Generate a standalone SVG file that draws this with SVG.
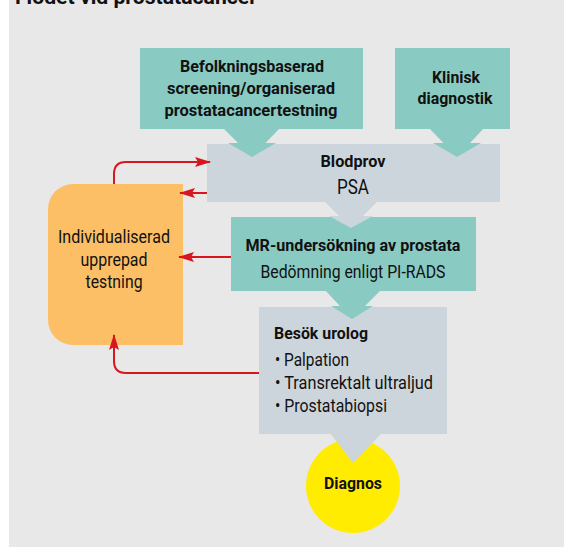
<svg xmlns="http://www.w3.org/2000/svg" width="564" height="547" viewBox="0 0 564 547">
<style>
.t{font-family:Roboto,"Liberation Sans",sans-serif;fill:#111;}
.b{font-weight:bold;font-size:16.5px;}
.r{font-size:18px;}
.teal{fill:#89cbc3;}
.gray{fill:#cdd5dc;}
.con{fill:none;stroke:#d7161e;stroke-width:2;}
</style>
<defs>
<marker id="ah" viewBox="0 0 16 10" refX="15" refY="5" markerWidth="16" markerHeight="10" markerUnits="userSpaceOnUse" orient="auto">
<path d="M0,0 L16,5 L0,10 L3,5 Z" fill="#d7161e"/>
</marker>
</defs>
<rect x="0" y="0" width="564" height="547" fill="#fff"/>
<rect x="9" y="0" width="555" height="547" fill="#e8e8e8"/>
<text class="t" x="15" y="4" font-size="20" font-weight="bold" textLength="242" lengthAdjust="spacingAndGlyphs">Flödet vid prostatacancer</text>

<g id="diagnos">
<circle cx="353" cy="486" r="47" fill="#ffec00"/>
<text class="t b" x="353" y="489" text-anchor="middle" textLength="58" lengthAdjust="spacingAndGlyphs">Diagnos</text>
</g>

<g id="screening">
<rect class="teal" x="140" y="48" width="223" height="81"/>
<polygon class="teal" points="223,128 280,128 252,157"/>
<text class="t b" x="252" y="72" text-anchor="middle" textLength="144" lengthAdjust="spacingAndGlyphs">Befolkningsbaserad</text>
<text class="t b" x="251" y="94" text-anchor="middle" textLength="168" lengthAdjust="spacingAndGlyphs">screening/organiserad</text>
<text class="t b" x="251" y="116" text-anchor="middle" textLength="173" lengthAdjust="spacingAndGlyphs">prostatacancertestning</text>
</g>

<g id="klinisk">
<rect class="teal" x="395" y="48" width="115" height="81"/>
<polygon class="teal" points="429,128 484,128 457,157"/>
<text class="t b" x="456" y="83" text-anchor="middle" textLength="48" lengthAdjust="spacingAndGlyphs">Klinisk</text>
<text class="t b" x="455" y="104" text-anchor="middle" textLength="75" lengthAdjust="spacingAndGlyphs">diagnostik</text>
</g>

<g id="blodprov">
<rect class="gray" x="207" y="144" width="293" height="58"/>
<polygon class="teal" points="228,143 276,143 252,157"/>
<polygon class="teal" points="433,143 481,143 457,157"/>
<polygon class="gray" points="324,201 378,201 351,228"/>
<text class="t b" x="353" y="167" text-anchor="middle" textLength="65" lengthAdjust="spacingAndGlyphs">Blodprov</text>
<text class="t" x="353" y="194" font-size="20" text-anchor="middle" textLength="32" lengthAdjust="spacingAndGlyphs">PSA</text>
</g>

<g id="mr">
<rect class="teal" x="231" y="217" width="245" height="74"/>
<polygon class="gray" points="329,216 373,216 351,228"/>
<polygon class="teal" points="325,290 381,290 352,319"/>
<text class="t b" x="353" y="251" text-anchor="middle" textLength="215" lengthAdjust="spacingAndGlyphs">MR-undersökning av prostata</text>
<text class="t r" x="353" y="278" text-anchor="middle" textLength="185" lengthAdjust="spacingAndGlyphs">Bedömning enligt PI-RADS</text>
</g>

<g id="urolog">
<rect class="gray" x="259" y="307" width="188" height="127"/>
<polygon class="teal" points="331,306 373,306 352,319"/>
<polygon class="gray" points="330,433 382,433 353,463"/>
<text class="t b" x="274" y="339" textLength="94" lengthAdjust="spacingAndGlyphs">Besök urolog</text>
<text class="t r" x="275" y="366" textLength="74" lengthAdjust="spacingAndGlyphs">• Palpation</text>
<text class="t r" x="275" y="389" textLength="158" lengthAdjust="spacingAndGlyphs">• Transrektalt ultraljud</text>
<text class="t r" x="275" y="412" textLength="112" lengthAdjust="spacingAndGlyphs">• Prostatabiopsi</text>
</g>

<g id="individualiserad">
<path d="M73,184 H183 V345 H73 A25,25 0 0 1 48,320 V209 A25,25 0 0 1 73,184 Z" fill="#fcbf66"/>
<text class="t r" x="114" y="243" text-anchor="middle" textLength="112" lengthAdjust="spacingAndGlyphs">Individualiserad</text>
<text class="t r" x="114" y="266" text-anchor="middle" textLength="67" lengthAdjust="spacingAndGlyphs">upprepad</text>
<text class="t r" x="114" y="288" text-anchor="middle" textLength="57" lengthAdjust="spacingAndGlyphs">testning</text>
</g>

<g id="connectors">
<path class="con" d="M114,184 V174 Q114,162 126,162 H210" marker-end="url(#ah)"/>
<path class="con" d="M207,193 H180" marker-end="url(#ah)"/>
<path class="con" d="M231,257 H179" marker-end="url(#ah)"/>
<path class="con" d="M259,373 H126 Q114,373 114,361 V335" marker-end="url(#ah)"/>
</g>
</svg>
